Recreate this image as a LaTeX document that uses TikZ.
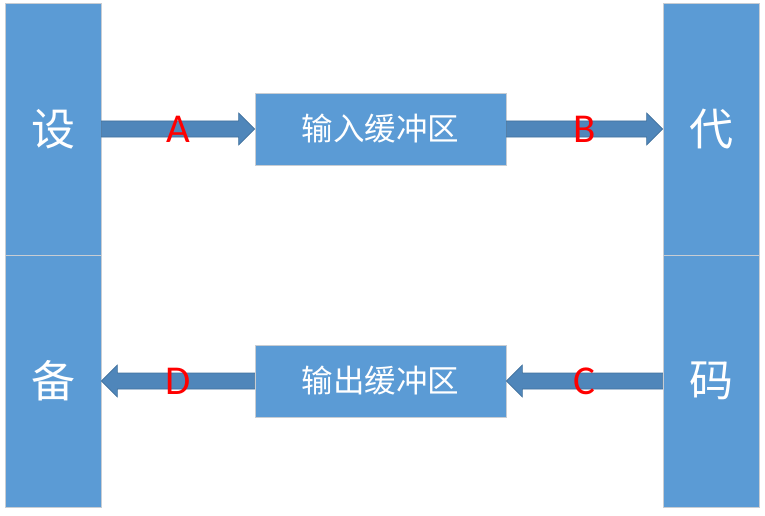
\documentclass[tikz,border=0pt]{standalone}
\usepackage{fontspec}
\newfontfamily\cjk{Noto Sans CJK SC}
\newfontfamily\lat{Carlito}
\usetikzlibrary{calc}
\definecolor{colblue}{HTML}{5B9BD5}
\definecolor{arrfill}{HTML}{4F86BA}
\definecolor{arrline}{HTML}{41719C}
\definecolor{edgegray}{HTML}{C8CDD3}
\newcommand\blockarrow[3]{%
  \draw[arr] ($(#1)+(0,8)$) -- ($(#2)+({-(#3)},8)$) -- ($(#2)+({-(#3)},16)$) -- (#2)
    -- ($(#2)+({-(#3)},-16)$) -- ($(#2)+({-(#3)},-8)$) -- ($(#1)+(0,-8)$) -- cycle;}
\begin{document}
\begin{tikzpicture}[x=1pt,y=-1pt,
  col/.style={draw=edgegray, fill=colblue, line width=0.8pt, minimum width=96pt,
    minimum height=252pt, inner sep=0pt, text=white, font=\cjk\fontsize{44}{44}\selectfont},
  buf/.style={draw=edgegray, fill=colblue, line width=0.8pt, minimum width=251pt,
    minimum height=72pt, inner sep=0pt, text=white, font=\cjk\fontsize{31.5}{31.5}\selectfont},
  arr/.style={fill=arrfill, draw=arrline, line width=0.6pt, line join=miter},
  lbl/.style={text=red, inner sep=0pt, font=\lat\fontsize{41}{41}\selectfont}]
\useasboundingbox (0,0) rectangle (765,516);
\node[col] (lt) at (53,129) {设};
\node[col] (lb) at (53,381) {备};
\node[col] (rt) at (711,129) {代};
\node[col] (rb) at (711,381) {码};
\node[buf] (in) at (380.5,129) {输入缓冲区};
\node[buf] (out) at (380.5,381) {输出缓冲区};
\blockarrow{lt.east}{in.west}{16}
\blockarrow{in.east}{rt.west}{16}
\blockarrow{rb.west}{out.east}{-16}
\blockarrow{out.west}{lb.east}{-16}
\node[lbl] (la) at ($(lt.east)!0.5!(in.west)$) {A};
\node[lbl] (lbb) at ($(in.east)!0.5!(rt.west)$) {B};
\node[lbl] (lc) at ($(rb.west)!0.5!(out.east)$) {C};
\node[lbl] (ld) at ($(out.west)!0.5!(lb.east)$) {D};
\end{tikzpicture}
\end{document}
